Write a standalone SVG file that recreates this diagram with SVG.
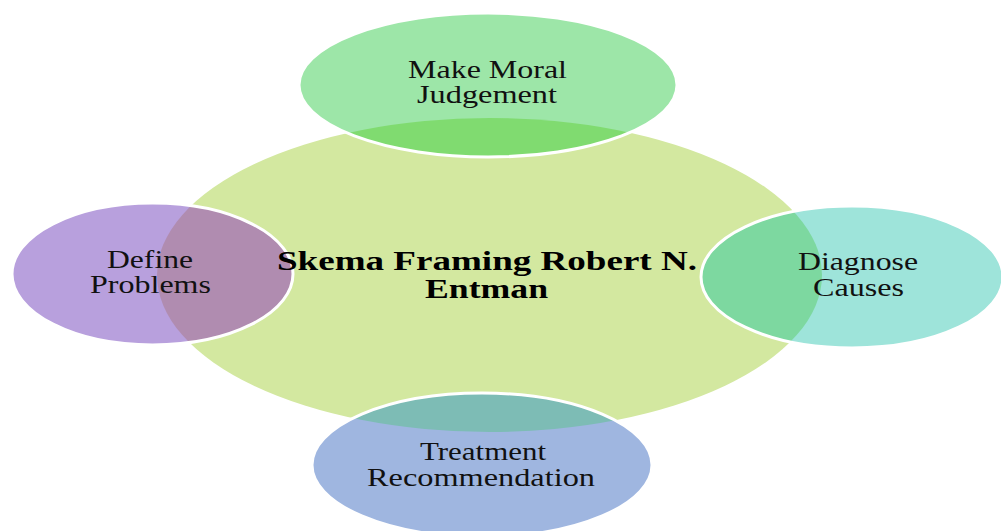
<svg xmlns="http://www.w3.org/2000/svg" width="1001" height="531" viewBox="0 0 1001 531">
  <style>
    .lbl { font-family: "Liberation Serif", "Times New Roman", serif; font-size: 26px; fill: #111; text-anchor: middle; }
    .title { font-family: "Liberation Serif", "Times New Roman", serif; font-size: 27px; font-weight: bold; fill: #000; text-anchor: middle; }
    .ring { fill: none; stroke: #ffffff; stroke-width: 3; }
  </style>
  <defs>
    <clipPath id="coreClip">
      <ellipse cx="489.5" cy="275" rx="332.5" ry="157"/>
    </clipPath>
  </defs>
  <rect width="1001" height="531" fill="#ffffff"/>

  <!-- central concept -->
  <g id="node-core">
    <ellipse cx="489.5" cy="275" rx="332.5" ry="157" fill="#d3e8a0"/>
  </g>

  <!-- no connectors: the outer elements overlap the centre directly -->
  <g id="connectors"></g>

  <g id="node-judgement">
    <ellipse cx="488" cy="85" rx="189" ry="72" fill="#9de6a8"/>
    <ellipse cx="488" cy="85" rx="189" ry="72" fill="#80db70" clip-path="url(#coreClip)"/>
    <ellipse class="ring" cx="488" cy="85" rx="189" ry="72"/>
    <text class="lbl" x="487.5" y="78" textLength="159" lengthAdjust="spacingAndGlyphs">Make Moral</text>
    <text class="lbl" x="487" y="103" textLength="140" lengthAdjust="spacingAndGlyphs">Judgement</text>
  </g>

  <g id="node-define">
    <ellipse cx="152.5" cy="274" rx="140.5" ry="71" fill="#b8a0dd"/>
    <ellipse cx="152.5" cy="274" rx="140.5" ry="71" fill="#b08cb0" clip-path="url(#coreClip)"/>
    <ellipse class="ring" cx="152.5" cy="274" rx="140.5" ry="71"/>
    <text class="lbl" x="150" y="268" textLength="86" lengthAdjust="spacingAndGlyphs">Define</text>
    <text class="lbl" x="150.5" y="293" textLength="121" lengthAdjust="spacingAndGlyphs">Problems</text>
  </g>

  <g id="node-diagnose">
    <ellipse cx="852" cy="277" rx="151" ry="71" fill="#9ee4da"/>
    <ellipse cx="852" cy="277" rx="151" ry="71" fill="#7dd8a0" clip-path="url(#coreClip)"/>
    <ellipse class="ring" cx="852" cy="277" rx="151" ry="71"/>
    <text class="lbl" x="858" y="270" textLength="120" lengthAdjust="spacingAndGlyphs">Diagnose</text>
    <text class="lbl" x="858.5" y="296" textLength="91" lengthAdjust="spacingAndGlyphs">Causes</text>
  </g>

  <g id="node-treatment">
    <ellipse cx="482" cy="465" rx="170" ry="72" fill="#9fb6e0"/>
    <ellipse cx="482" cy="465" rx="170" ry="72" fill="#7dbcb5" clip-path="url(#coreClip)"/>
    <ellipse class="ring" cx="482" cy="465" rx="170" ry="72"/>
    <text class="lbl" x="483" y="460" textLength="126" lengthAdjust="spacingAndGlyphs">Treatment</text>
    <text class="lbl" x="481" y="486" textLength="228" lengthAdjust="spacingAndGlyphs">Recommendation</text>
  </g>

  <!-- title of the central concept -->
  <g id="node-core-label">
    <text class="title" x="487" y="270" textLength="420" lengthAdjust="spacingAndGlyphs">Skema Framing Robert N.</text>
    <text class="title" x="486.5" y="298" textLength="123" lengthAdjust="spacingAndGlyphs">Entman</text>
  </g>
</svg>
